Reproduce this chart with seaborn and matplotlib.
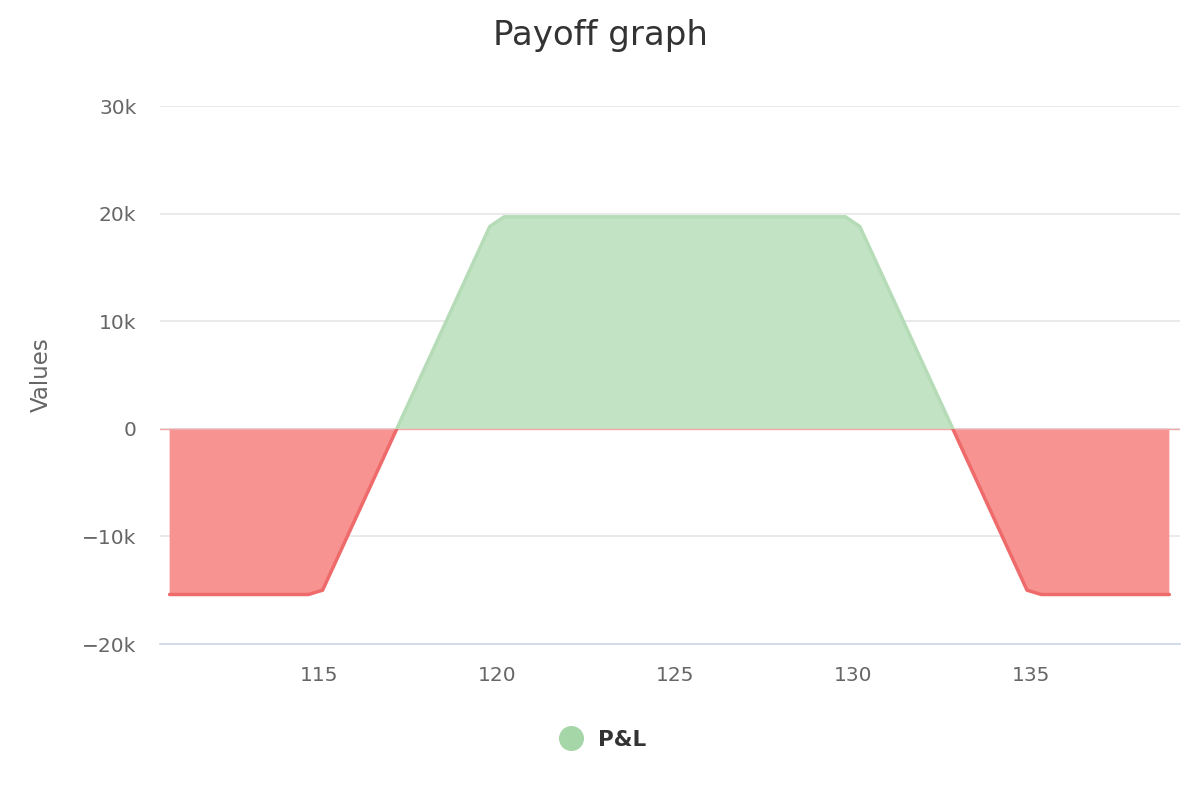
import numpy as np
import pandas as pd
import seaborn as sns
import matplotlib
matplotlib.use("Agg")
import matplotlib.pyplot as plt
from matplotlib.patches import Rectangle
from matplotlib.lines import Line2D

# Data
price = [110.8, 114.7, 115.1, 119.8, 120.2, 129.8, 130.2, 134.9, 135.3, 138.9]
pnl = [-15400, -15400, -15000, 18800, 19700, 19700, 18800, -15000, -15400, -15400]
y_ticks = [-20000, -10000, 0, 10000, 20000, 30000]
y_tick_labels = ["\u221220k", "\u221210k", "0", "10k", "20k", "30k"]
x_ticks = [115, 120, 125, 130, 135]

df = pd.DataFrame({"price": price, "pnl": pnl})

sns.set_theme(style="white")
plt.rcParams["font.family"] = ["DejaVu Sans"]

fig = plt.figure(figsize=(12, 8), dpi=100)
ax = fig.add_axes([160 / 1200, 1 - 644 / 800, 1020 / 1200, (644 - 106) / 800])

green_fill = "#c3e3c5"
red_fill = "#f79391"
green_line = "#b5dcb7"
red_line = "#ef6b6b"

x = df["price"].to_numpy()
y = df["pnl"].to_numpy()
ax.fill_between(x, 0, y, where=y >= 0, interpolate=True, color=green_fill, lw=0, zorder=2)
ax.fill_between(x, 0, y, where=y <= 0, interpolate=True, color=red_fill, lw=0, zorder=2)

sns.lineplot(data=df, x="price", y="pnl", ax=ax, color=green_line, lw=2.5, zorder=3)
line_g = ax.lines[-1]
sns.lineplot(data=df, x="price", y="pnl", ax=ax, color=red_line, lw=2.5, zorder=3)
line_r = ax.lines[-1]
line_g.set_clip_path(Rectangle((100, 0), 50, 1e6, transform=ax.transData))
line_r.set_clip_path(Rectangle((100, -1e6), 50, 1e6, transform=ax.transData))
ax.axhline(0, color="#f0a8a8", lw=1, zorder=2.5)

ax.set_xlim(110.53, 139.2)
ax.set_ylim(-20000, 30000)
ax.set_yticks(y_ticks)
ax.set_yticklabels(y_tick_labels)
ax.set_xticks(x_ticks)
ax.set_xticklabels([str(t) for t in x_ticks])
ax.tick_params(axis="both", colors="#666666", labelsize=14.5, length=0)
ax.tick_params(axis="y", pad=17)
ax.tick_params(axis="x", pad=16)
ax.yaxis.grid(True, color="#e6e6e6", lw=1.2, zorder=0)
ax.xaxis.grid(False)
for s in ["left", "right", "top"]:
    ax.spines[s].set_visible(False)
ax.spines["bottom"].set_color("#ccd6eb")
ax.spines["bottom"].set_linewidth(1.2)
ax.set_xlabel("")
ax.set_ylabel("Values", color="#666666", fontsize=16.5, labelpad=21)

fig.text(0.5, 1 - 35 / 800, "Payoff graph", ha="center", va="center", fontsize=24.5, color="#333333")

handle = Line2D([], [], marker="o", color="none", markerfacecolor="#a5d6a7",
                markeredgecolor="#a5d6a7", markersize=17)
fig.legend([handle], ["P&L"], loc="center", bbox_to_anchor=(0.498, 1 - 740 / 800),
           frameon=False, prop={"weight": "bold", "size": 15.5}, labelcolor="#333333",
           handletextpad=0.25)

fig.savefig("out.png", dpi=100)
